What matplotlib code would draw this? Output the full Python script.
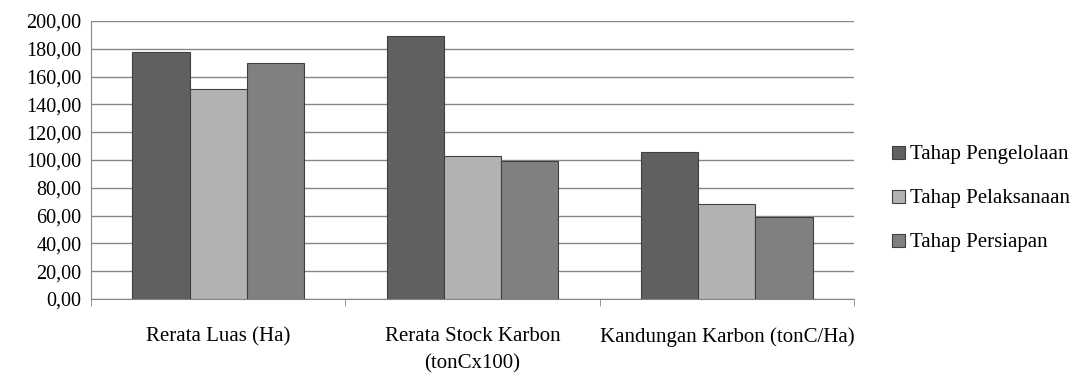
import matplotlib.pyplot as plt
import numpy as np

categories = ['Rerata Luas (Ha)', 'Rerata Stock Karbon\n(tonCx100)', 'Kandungan Karbon (tonC/Ha)']
series_names = ['Tahap Pengelolaan', 'Tahap Pelaksanaan', 'Tahap Persiapan']
pengelolaan = [177.5, 189.0, 106.0]
pelaksanaan = [150.8, 103.1, 68.1]
persiapan = [169.5, 99.5, 58.8]
yticks = np.arange(0, 201, 20)

colors = ['#606060', '#b2b2b2', '#808080']

plt.rcParams['font.family'] = ['Liberation Serif', 'DejaVu Serif']

fig = plt.figure(figsize=(10.7, 3.74), dpi=100)
ax = fig.add_axes([91 / 1070, 1 - 299 / 374, (854 - 91) / 1070, (299 - 21) / 374])

x = np.arange(len(categories))
w = 0.225
for i, (vals, name) in enumerate(zip([pengelolaan, pelaksanaan, persiapan], series_names)):
    ax.bar(x + (i - 1) * w, vals, width=w, color=colors[i], edgecolor='#404040',
           linewidth=0.8, label=name, zorder=3)

ax.set_xlim(-0.5, 2.5)
ax.set_ylim(0, 200)
ax.set_yticks(yticks)
ax.set_yticklabels(['%d,00' % v for v in yticks], fontsize=14.5)
ax.yaxis.grid(True, color='#868686', linewidth=1)
ax.tick_params(axis='y', length=0, pad=7)

ax.set_xticks(x)
ax.set_xticklabels(categories, fontsize=15, linespacing=1.6)
ax.tick_params(axis='x', length=0, pad=20)
ax.set_xticks([-0.5, 0.5, 1.5, 2.5], minor=True)
ax.tick_params(axis='x', which='minor', length=5, color='#868686')

for s in ['top', 'right']:
    ax.spines[s].set_visible(False)
ax.spines['left'].set_color('#868686')
ax.spines['bottom'].set_color('#868686')

ax.legend(loc='center left', bbox_to_anchor=(884 / 1070, 1 - 199 / 374), bbox_transform=fig.transFigure,
          frameon=False, fontsize=15, handlelength=0.6, handleheight=0.6,
          handletextpad=0.25, labelspacing=1.2, borderaxespad=0)

fig.savefig('out.png', dpi=100)
